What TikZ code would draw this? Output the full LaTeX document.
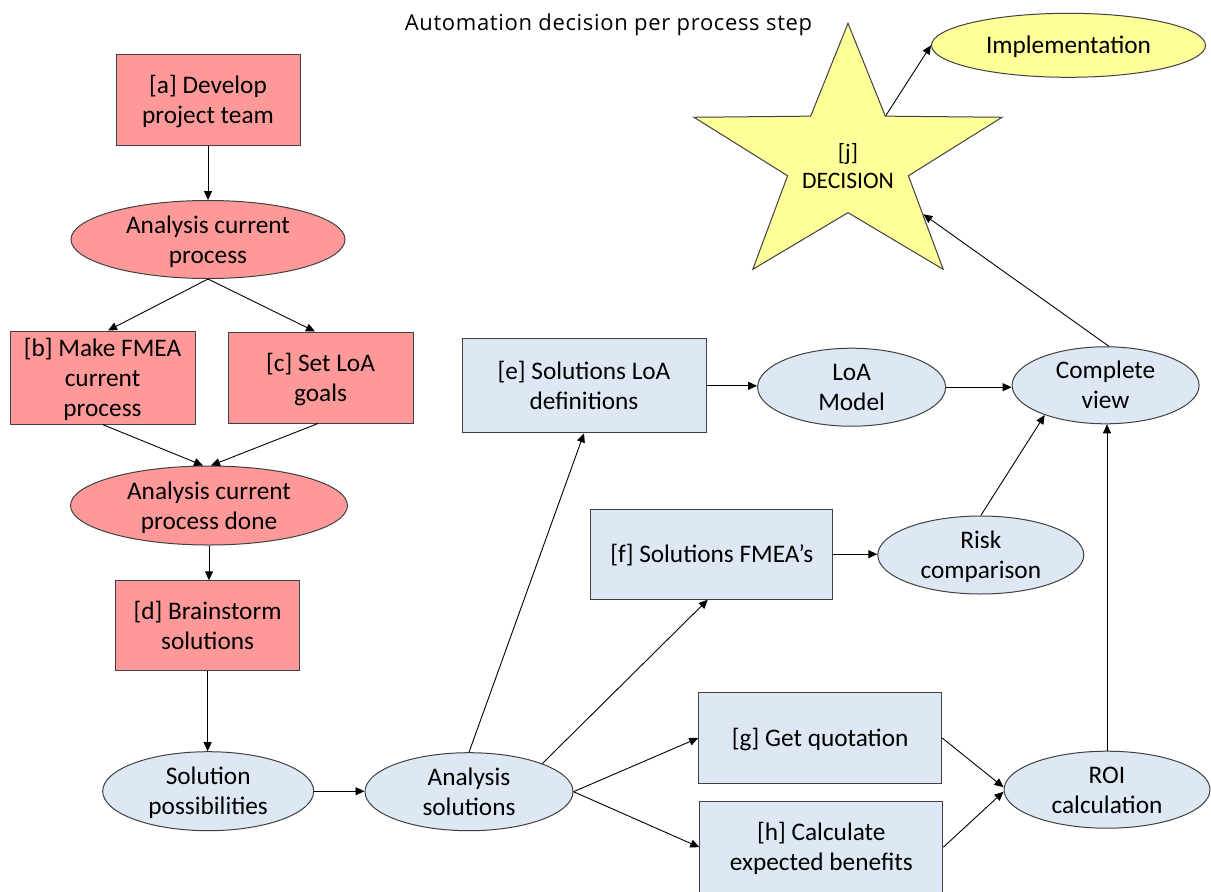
\documentclass[tikz,border=0pt]{standalone}
\usepackage{fontspec}
\setmainfont{Carlito}
\newfontfamily\headingfont[LetterSpace=3]{Open Sans}
\usetikzlibrary{shapes.geometric, arrows.meta, calc}
\definecolor{stepred}{HTML}{FF9999}
\definecolor{stepblue}{HTML}{DEE8F4}
\definecolor{stepyellow}{HTML}{FFFF99}
\definecolor{edgegray}{HTML}{404040}
% fixed top of the first line and bottom of the last line of a label
\newcommand\topstrut{\rule{0pt}{25pt}}
\newcommand\botstrut{\rule[-8pt]{0pt}{8pt}}

\begin{document}
\begin{tikzpicture}[x=1pt, y=-1pt,
  every node/.style={font=\fontsize{25.3}{30}\selectfont, text=black},
  size/.style 2 args={minimum width=#1, minimum height=#2},
  lbl/.style={align=center, inner sep=0pt},
  redbox/.style={lbl, rectangle, draw=edgegray, fill=stepred, line width=1pt},
  bluebox/.style={lbl, rectangle, draw=edgegray, fill=stepblue, line width=1pt},
  oval/.style={ellipse, draw=edgegray, line width=1pt, inner sep=0pt},
  arr/.style={-{Triangle[length=9pt,width=8pt]}, line width=0.9pt, black}]

\fill[white] (0,0) rectangle (1211,892);
\useasboundingbox (0,0) rectangle (1211,892);

% heading
\node[inner sep=0pt, anchor=base, font=\headingfont\fontsize{22}{26}\selectfont] (title) at (608.5,30)
  {Automation decision per process step};

% analysis of the current process
\node[redbox, size={184pt}{91pt}] (a) at (208,99.5) {\topstrut[a] Develop\\project team\botstrut};
\node[oval, fill=stepred, size={274pt}{78pt}] (acp) at (208,239.5) {};
\node[lbl] (acpt) at (acp) {\topstrut Analysis current\\process\botstrut};
\node[redbox, size={185pt}{91pt}] (b) at (102.5,377.5) {\topstrut[b] Make FMEA\\current\\process\botstrut};
\node[redbox, size={185pt}{91pt}] (c) at (320.5,377.5) {\topstrut[c] Set LoA\\goals\botstrut};
\node[oval, fill=stepred, size={277pt}{79pt}] (acpd) at (209,505.5) {};
\node[lbl] (acpdt) at (acpd) {\topstrut Analysis current\\process done\botstrut};
\node[redbox, size={184pt}{90pt}] (d) at (207.6,625.8) {\topstrut[d] Brainstorm\\solutions\botstrut};

% solution analysis
\node[oval, fill=stepblue, size={211pt}{79pt}] (sp) at (208.2,791.2) {};
\node[lbl] (spt) at (sp) {\topstrut Solution\\possibilities\botstrut};
\node[oval, fill=stepblue, size={208pt}{78pt}] (as) at (469,791.7) {};
\node[lbl] (ast) at (as) {\topstrut Analysis\\solutions\botstrut};
\node[bluebox, size={244pt}{94pt}] (e) at (584,385.8) {\topstrut[e] Solutions LoA\\definitions\botstrut};
\node[oval, fill=stepblue, size={188pt}{78pt}] (lm) at (851.6,387.2) {};
\node[lbl] (lmt) at (lm) {\topstrut LoA\\Model\botstrut};
\node[oval, fill=stepblue, size={187pt}{77pt}] (cv) at (1105.6,385.3) {};
\node[lbl] (cvt) at (cv) {\topstrut Complete\\view\botstrut};
\node[bluebox, size={242pt}{90pt}] (f) at (711.8,554.2) {\topstrut[f] Solutions FMEA’s\botstrut};
\node[oval, fill=stepblue, size={206pt}{78pt}] (rc) at (980.8,555) {};
\node[lbl] (rct) at (rc) {\topstrut Risk\\comparison\botstrut};
\node[bluebox, size={243pt}{91pt}] (g) at (820.2,738) {\topstrut[g] Get quotation\botstrut};
\node[bluebox, size={243pt}{91pt}] (h) at (821.3,847.2) {\topstrut[h] Calculate\\expected benefits\botstrut};
\node[oval, fill=stepblue, size={206pt}{77pt}] (roi) at (1107,789.7) {};
\node[lbl] (roit) at (roi) {\topstrut ROI\\calculation\botstrut};

% decision
\node[star, star points=5, star point ratio=2.55, minimum size=272pt, inner sep=0pt,
      draw=edgegray, fill=stepyellow, line width=1pt, xscale=1.191, transform shape] (j) at (848,159.3) {};
\node[lbl, font=\fontsize{23.6}{28}\selectfont] (jt) at (848,166) {\topstrut[j]\\DECISION\botstrut};
\node[oval, fill=stepyellow, size={274pt}{64pt}] (impl) at (1068.5,45.3) {};
\node[lbl] (implt) at (impl) {\topstrut Implementation\botstrut};

% connectors
\draw[arr] (a.south) -- (a.south |- acp.north);
\draw[arr] (acp.south) -- ($(b.north)+(5.5,0)$);
\draw[arr] (acp.south) -- ($(c.north)+(-5.5,0)$);
\draw[arr] (b.south) -- ($(acpd.north)+(-6,0)$);
\draw[arr] ($(c.south)+(-2.5,0)$) -- ($(acpd.north)+(2,0)$);
\draw[arr] (acpd.south) -- (acpd.south |- d.north);
\draw[arr] (d.south) -- (d.south |- sp.north);
\draw[arr] (sp.east) -- (sp.east -| as.west);
\draw[arr] (as.north) -- (e.south);
\draw[arr] (as.21) -- ($(f.south)+(-4,0)$);
\draw[arr] (as.east) -- (g.west);
\draw[arr] (as.east) -- (h.west);
\draw[arr] (e.east) -- (e.east -| lm.west);
\draw[arr] (lm.east) -- (lm.east -| cv.west);
\draw[arr] (f.east) -- (f.east -| rc.west);
\draw[arr] (rc.north) -- (cv.206);
\draw[arr] (g.east) -- ($(roi.west)+(0,-2.5)$);
\draw[arr] (h.east) -- ($(roi.west)+(0,2)$);
\draw[arr] (roi.north) -- (roi.north |- cv.south);
\draw[arr] (cv.85) -- (j.319.4);
\draw[arr] (j.54) -- (impl.west);
\end{tikzpicture}
\end{document}
